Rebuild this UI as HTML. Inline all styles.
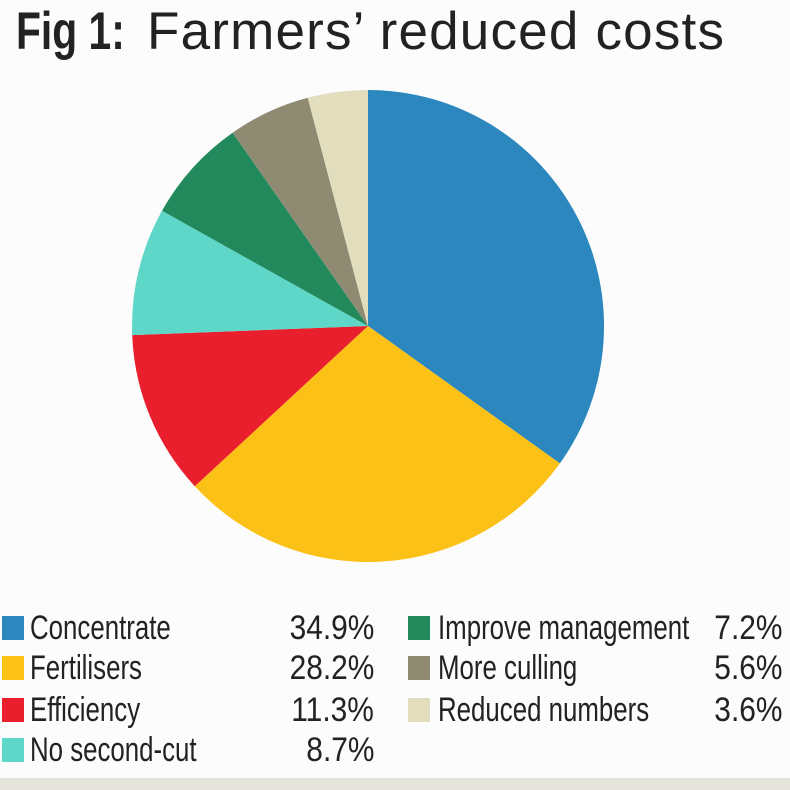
<!DOCTYPE html>
<html><head><style>
body{margin:0;width:790px;height:790px;background:#fcfcfc;overflow:hidden;font-family:"Liberation Sans",sans-serif;position:relative}
.t{position:absolute;top:0px;font-size:53px;color:#222;white-space:nowrap;line-height:64px}
.l{position:absolute;font-size:34px;color:#222;white-space:nowrap;line-height:36px;transform:scaleX(0.76);transform-origin:left center}
.sw{position:absolute;width:22px;height:24px}
.p{position:absolute;font-size:34px;color:#222;text-align:right;white-space:nowrap;line-height:36px;transform:scaleX(0.88);transform-origin:right center}
.bar{position:absolute;left:0;top:778px;width:790px;height:12px;background:#e4e4dc}
</style></head><body>
<div class="t" style="left:16px;font-weight:bold;transform:scaleX(0.77);transform-origin:left center">Fig 1:</div>
<div class="t" style="left:147px;letter-spacing:1.2px">Farmers’ reduced costs</div>
<svg width="790" height="790" style="position:absolute;left:0;top:0">
<g transform="translate(368,326)">
<path d="M0,0 L0,-236 A236,236 0 0,1 191.9,137.4 Z" fill="#2b87bd"/>
<path d="M0,0 L191.9,137.4 A236,236 0 0,1 -173.2,160.3 Z" fill="#fcc116"/>
<path d="M0,0 L-173.2,160.3 A236,236 0 0,1 -235.8,9.1 Z" fill="#ea1f2e"/>
<path d="M0,0 L-235.8,9.1 A236,236 0 0,1 -206,-115.2 Z" fill="#5fd7c8"/>
<path d="M0,0 L-206,-115.2 A236,236 0 0,1 -135.4,-193.3 Z" fill="#22895d"/>
<path d="M0,0 L-135.4,-193.3 A236,236 0 0,1 -60.3,-228.2 Z" fill="#8e8b72"/>
<path d="M0,0 L-60.3,-228.2 A236,236 0 0,1 0,-236 Z" fill="#e2ddbd"/>
</g></svg>
<div class="sw" style="left:2px;top:616px;background:#2b87bd"></div><div class="l" style="left:30px;top:610px">Concentrate</div><div class="p" style="right:416px;top:610px">34.9%</div>
<div class="sw" style="left:2px;top:656px;background:#fcc116"></div><div class="l" style="left:30px;top:650px">Fertilisers</div><div class="p" style="right:416px;top:650px">28.2%</div>
<div class="sw" style="left:2px;top:698px;background:#ea1f2e"></div><div class="l" style="left:30px;top:692px">Efficiency</div><div class="p" style="right:416px;top:692px">11.3%</div>
<div class="sw" style="left:2px;top:738px;background:#5fd7c8"></div><div class="l" style="left:30px;top:732px">No second-cut</div><div class="p" style="right:416px;top:732px">8.7%</div>
<div class="sw" style="left:408px;top:616px;background:#22895d"></div><div class="l" style="left:438px;top:610px">Improve management</div><div class="p" style="right:8px;top:610px">7.2%</div>
<div class="sw" style="left:408px;top:656px;background:#8e8b72"></div><div class="l" style="left:438px;top:650px">More culling</div><div class="p" style="right:8px;top:650px">5.6%</div>
<div class="sw" style="left:408px;top:698px;background:#e2ddbd"></div><div class="l" style="left:438px;top:692px">Reduced numbers</div><div class="p" style="right:8px;top:692px">3.6%</div>
<div class="bar"></div>
</body></html>
